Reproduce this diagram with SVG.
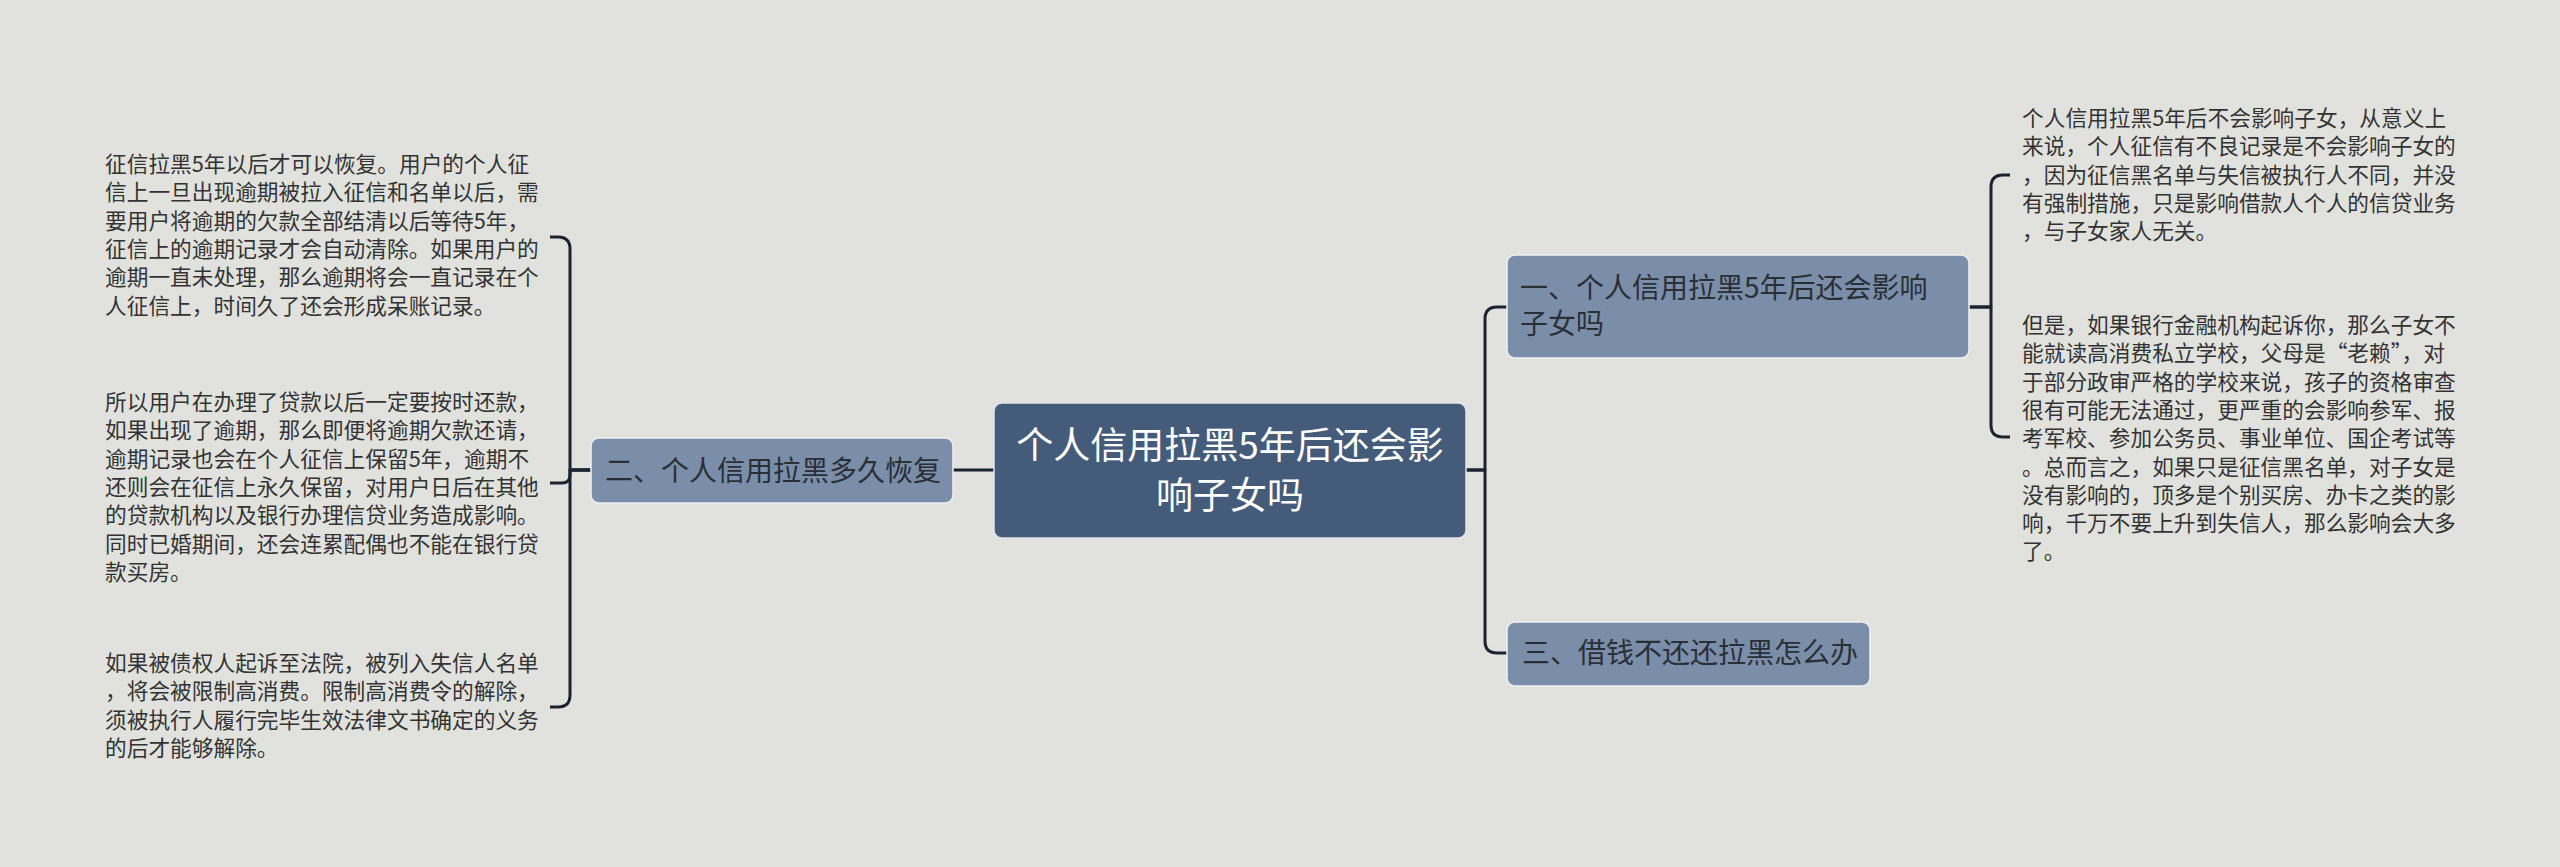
<svg xmlns="http://www.w3.org/2000/svg" width="2560" height="867" viewBox="0 0 2560 867">
<style>
.bg{fill:#e1e2de}
.conn{fill:none;stroke:#1b2330;stroke-width:3;stroke-linejoin:round}
.root rect{fill:#445b7a;stroke:#dfe4ea;stroke-width:1.5}
.sub rect{fill:#7a8eaa;stroke:#eef1f4;stroke-width:1.5}
.t{font-family:"Noto Sans CJK SC","Noto Sans",sans-serif}
.rt{fill:#ffffff;font-size:37px}
.st{fill:#2a2f36;font-size:28px}
.lt{fill:#333333;font-size:21.7px}
</style>
<rect class="bg" x="0" y="0" width="2560" height="867"/>
<g id="connectors">
<path class="conn" d="M994,470 H953"/>
<path class="conn" d="M591,470 H570 V249 Q570,237 558,237 H550"/>
<path class="conn" d="M591,470 H570 V475 Q570,483 562,483 H550"/>
<path class="conn" d="M591,470 H570 V695 Q570,707 558,707 H550"/>
<path class="conn" d="M1466,470 H1485 V319 Q1485,307 1497,307 H1507"/>
<path class="conn" d="M1466,470 H1485 V641 Q1485,653 1497,653 H1507"/>
<path class="conn" d="M1969,307 H1991 V187 Q1991,175 2003,175 H2010"/>
<path class="conn" d="M1969,307 H1991 V425 Q1991,437 2003,437 H2010"/>
</g>
<g id="root" class="root">
<rect x="994" y="403" width="472" height="135" rx="8"/>
<text class="t rt" x="1230" y="459" text-anchor="middle">个人信用拉黑5年后还会影</text>
<text class="t rt" x="1230" y="509" text-anchor="middle">响子女吗</text>
</g>
<g id="node-left" class="sub">
<rect x="591" y="438" width="362" height="65" rx="8"/>
<text class="t st" x="605" y="481">二、个人信用拉黑多久恢复</text>
</g>
<g id="node-right1" class="sub">
<rect x="1507" y="255" width="462" height="103" rx="8"/>
<text class="t st" x="1520" y="298">一、个人信用拉黑5年后还会影响</text>
<text class="t st" x="1520" y="334">子女吗</text>
</g>
<g id="node-right3" class="sub">
<rect x="1507" y="622" width="363" height="64" rx="8"/>
<text class="t st" x="1522" y="663">三、借钱不还还拉黑怎么办</text>
</g>
<g id="leaf-l1">
<text class="t lt" x="105" y="172">征信拉黑5年以后才可以恢复。用户的个人征</text>
<text class="t lt" x="105" y="200.3">信上一旦出现逾期被拉入征信和名单以后，需</text>
<text class="t lt" x="105" y="228.6">要用户将逾期的欠款全部结清以后等待5年，</text>
<text class="t lt" x="105" y="256.9">征信上的逾期记录才会自动清除。如果用户的</text>
<text class="t lt" x="105" y="285.2">逾期一直未处理，那么逾期将会一直记录在个</text>
<text class="t lt" x="105" y="313.5">人征信上，时间久了还会形成呆账记录。</text>
</g>
<g id="leaf-l2">
<text class="t lt" x="105" y="410">所以用户在办理了贷款以后一定要按时还款，</text>
<text class="t lt" x="105" y="438.3">如果出现了逾期，那么即便将逾期欠款还请，</text>
<text class="t lt" x="105" y="466.6">逾期记录也会在个人征信上保留5年，逾期不</text>
<text class="t lt" x="105" y="494.9">还则会在征信上永久保留，对用户日后在其他</text>
<text class="t lt" x="105" y="523.2">的贷款机构以及银行办理信贷业务造成影响。</text>
<text class="t lt" x="105" y="551.5">同时已婚期间，还会连累配偶也不能在银行贷</text>
<text class="t lt" x="105" y="579.8">款买房。</text>
</g>
<g id="leaf-l3">
<text class="t lt" x="105" y="671">如果被债权人起诉至法院，被列入失信人名单</text>
<text class="t lt" x="105" y="699.3">，将会被限制高消费。限制高消费令的解除，</text>
<text class="t lt" x="105" y="727.6">须被执行人履行完毕生效法律文书确定的义务</text>
<text class="t lt" x="105" y="755.9">的后才能够解除。</text>
</g>
<g id="leaf-r1">
<text class="t lt" x="2022" y="126">个人信用拉黑5年后不会影响子女，从意义上</text>
<text class="t lt" x="2022" y="154.3">来说，个人征信有不良记录是不会影响子女的</text>
<text class="t lt" x="2022" y="182.6">，因为征信黑名单与失信被执行人不同，并没</text>
<text class="t lt" x="2022" y="210.9">有强制措施，只是影响借款人个人的信贷业务</text>
<text class="t lt" x="2022" y="239.2">，与子女家人无关。</text>
</g>
<g id="leaf-r2">
<text class="t lt" x="2022" y="333">但是，如果银行金融机构起诉你，那么子女不</text>
<text class="t lt" x="2022" y="361.3">能就读高消费私立学校，父母是“老赖”，对</text>
<text class="t lt" x="2022" y="389.6">于部分政审严格的学校来说，孩子的资格审查</text>
<text class="t lt" x="2022" y="417.9">很有可能无法通过，更严重的会影响参军、报</text>
<text class="t lt" x="2022" y="446.2">考军校、参加公务员、事业单位、国企考试等</text>
<text class="t lt" x="2022" y="474.5">。总而言之，如果只是征信黑名单，对子女是</text>
<text class="t lt" x="2022" y="502.8">没有影响的，顶多是个别买房、办卡之类的影</text>
<text class="t lt" x="2022" y="531.1">响，千万不要上升到失信人，那么影响会大多</text>
<text class="t lt" x="2022" y="559.4">了。</text>
</g>
</svg>
